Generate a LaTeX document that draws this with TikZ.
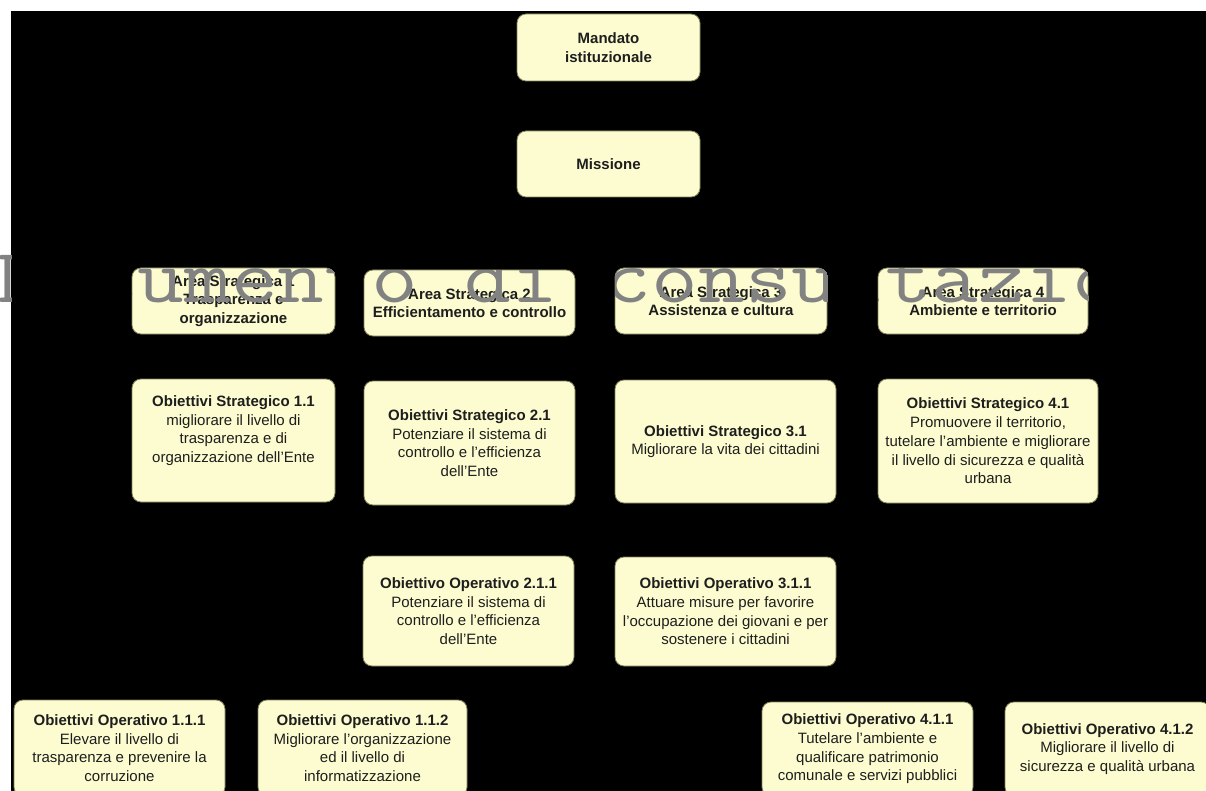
\documentclass[tikz,border=0pt]{standalone}
\usepackage{fontspec}
\setmainfont{Liberation Sans}
\usepackage{xcolor}
\definecolor{cardfill}{RGB}{252,252,208}
\definecolor{cardedge}{RGB}{130,130,90}
\definecolor{cardtext}{RGB}{30,30,30}
\definecolor{wmgray}{RGB}{130,130,130}

\begin{document}
\begin{tikzpicture}[
        x=1pt, y=-1pt,
        panel/.style={
            draw=cardedge,
            line width=0.8pt,
            rounded corners=9pt,
            fill=cardfill,
            text=cardtext,
            align=center,
            inner sep=2pt,
            font=\fontsize{15}{18.7}\selectfont
        },
        boxsize/.style 2 args={minimum width=#1, minimum height=#2},
        watermark/.style={
            text=wmgray,
            inner sep=0pt,
            transform shape,
            yscale=0.85,
            font=\ttfamily\fontsize{90.7}{90.7}\selectfont
        }
    ]
        % frame
        \fill[white] (0,0) rectangle (1206,791);
        \fill[black] (11,11) rectangle (1206,791);
        \useasboundingbox (0,0) rectangle (1206,791);

        \node[panel, boxsize={183}{67}] (mandato) at (608.5,47.5) {\textbf{Mandato}\\\textbf{istituzionale}};
        \node[panel, boxsize={183}{66}] (missione) at (608.5,164) {\textbf{Missione}};

        % aree strategiche
        \node[panel, boxsize={203}{66}] (area1) at (233.5,301) {\textbf{Area Strategica 1}\\\textbf{Trasparenza e}\\\textbf{organizzazione}};
        \node[panel, boxsize={211}{66}] (area2) at (469.5,303) {\textbf{Area Strategica 2}\\\textbf{Efficientamento e controllo}};
        \node[panel, boxsize={212}{66}] (area3) at (721,301) {\textbf{Area Strategica 3}\\\textbf{Assistenza e cultura}};
        \node[panel, boxsize={210}{66}] (area4) at (983,301) {\textbf{Area Strategica 4}\\\textbf{Ambiente e territorio}};

        % obiettivi strategici
        \node[panel, boxsize={203}{123}] (obs11) at (233.5,440.5) {\textbf{Obiettivi Strategico 1.1}\\migliorare il livello di\\trasparenza e di\\organizzazione dell'Ente\\[4pt]};
        \node[panel, boxsize={211}{124}] (obs21) at (469.5,443) {\textbf{Obiettivi Strategico 2.1}\\Potenziare il sistema di\\controllo e l'efficienza\\dell'Ente};
        \node[panel, boxsize={221}{123}] (obs31) at (725.5,441.5) {\textbf{Obiettivi Strategico 3.1}\\Migliorare la vita dei cittadini};
        \node[panel, boxsize={220}{124}] (obs41) at (988,441) {\textbf{Obiettivi Strategico 4.1}\\Promuovere il territorio,\\tutelare l'ambiente e migliorare\\il livello di sicurezza e qualità\\urbana};

        % obiettivi operativi
        \node[panel, boxsize={211}{110}] (obo211) at (468.5,611) {\textbf{Obiettivo Operativo 2.1.1}\\Potenziare il sistema di\\controllo e l'efficienza\\dell'Ente};
        \node[panel, boxsize={221}{109}] (obo311) at (725.5,611.5) {\textbf{Obiettivi Operativo 3.1.1}\\Attuare misure per favorire\\l'occupazione dei giovani e per\\sostenere i cittadini};
        \node[panel, boxsize={211}{96}] (obo111) at (119.5,748) {\textbf{Obiettivi Operativo 1.1.1}\\Elevare il livello di\\trasparenza e prevenire la\\corruzione};
        \node[panel, boxsize={209}{96}] (obo112) at (362.5,748) {\textbf{Obiettivi Operativo 1.1.2}\\Migliorare l'organizzazione\\ed il livello di\\informatizzazione};
        \node[panel, boxsize={211}{94}] (obo411) at (867.5,749) {\textbf{Obiettivi Operativo 4.1.1}\\Tutelare l'ambiente e\\qualificare patrimonio\\comunale e servizi pubblici};
        \node[panel, boxsize={205}{94}] (obo412) at (1107.5,749) {\textbf{Obiettivi Operativo 4.1.2}\\Migliorare il livello di\\sicurezza e qualità urbana};

        % watermark, only seen on the light parts
        \begin{scope}
            \clip (0,0) rectangle (11,791) (0,0) rectangle (1206,11)
                [rounded corners=9pt]
                (area1.north west) rectangle (area1.south east)
                (area2.north west) rectangle (area2.south east)
                (area3.north west) rectangle (area3.south east)
                (area4.north west) rectangle (area4.south east);
            \node[watermark, anchor=base west] (filigrana) at (-2.5,302) {Documento di consultazione};
        \end{scope}
    \end{tikzpicture}
\end{document}
